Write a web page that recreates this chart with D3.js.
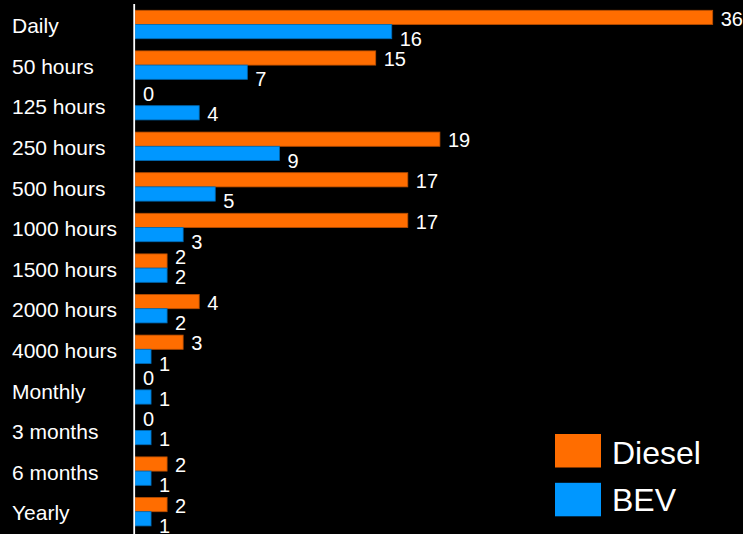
<!DOCTYPE html>
<html>
<head>
<meta charset="utf-8">
<script src="https://cdn.jsdelivr.net/npm/d3@7"></script>
<style>
  html, body { margin: 0; padding: 0; background: #000; }
  svg { display: block; }
  text { font-family: "Liberation Sans", Arial, sans-serif; fill: #fff; }
</style>
</head>
<body>
<svg id="chart" width="743" height="534"></svg>
<script>
// Maintenance intervals and number of tasks per drivetrain
const categories = ["Daily", "50 hours", "125 hours", "250 hours", "500 hours", "1000 hours",
  "1500 hours", "2000 hours", "4000 hours", "Monthly", "3 months", "6 months", "Yearly"];
const seriesNames = ["Diesel", "BEV"];
const dieselValues = [36, 15, 0, 19, 17, 17, 2, 4, 3, 0, 0, 2, 2];
const bevValues = [16, 7, 4, 9, 5, 3, 2, 2, 1, 1, 1, 1, 1];
const colors = ["#ff6d00", "#0097ff"];
const strokes = ["#b84e00", "#006bb5"];

const width = 743, height = 534;
const svg = d3.select("#chart");
svg.append("rect").attr("width", width).attr("height", height).attr("fill", "#000");

const x = d3.scaleLinear().domain([0, 36]).range([135, 712.7]);
const y = d3.scaleBand().domain(categories).range([4.2, 532]).paddingInner(0.3).paddingOuter(0.15);
const ySub = d3.scaleBand().domain(seriesNames).range([0, y.bandwidth()]);

const rows = categories.map((c, i) => ({ cat: c, vals: [dieselValues[i], bevValues[i]] }));

// bars
const groups = svg.append("g").selectAll("g").data(rows).join("g")
  .attr("transform", d => `translate(0,${y(d.cat)})`);
groups.selectAll("rect").data(d => d.vals.map((v, k) => ({ v, k })))
  .join("rect")
  .attr("x", x(0))
  .attr("y", d => ySub(seriesNames[d.k]))
  .attr("width", d => x(d.v) - x(0))
  .attr("height", ySub.bandwidth())
  .attr("fill", d => colors[d.k])
  .attr("stroke", d => d.v > 0 ? strokes[d.k] : "none")
  .attr("stroke-width", 0.8);

// value labels, nudged apart when they would collide with the other bar/label
const labelSize = 20;
const charW = labelSize * 0.556;
const labelG = svg.append("g");
rows.forEach(r => {
  const [dv, bv] = r.vals;
  const dx0 = x(dv) + 8, dx1 = dx0 + String(dv).length * charW;
  const bx0 = x(bv) + 8, bx1 = bx0 + String(bv).length * charW;
  const clash = (dx0 < bx1 && bx0 < dx1) || dx0 < x(bv);
  const dCenter = y(r.cat) + ySub("Diesel") + ySub.bandwidth() / 2 + (clash ? -4.5 : 1);
  const bCenter = y(r.cat) + ySub("BEV") + ySub.bandwidth() / 2 + (clash ? 1.5 : 7);
  [[dv, dx0, dCenter], [bv, bx0, bCenter]].forEach(([v, lx, cy]) => {
    labelG.append("text")
      .attr("x", lx)
      .attr("y", cy + labelSize * 0.358)
      .attr("font-size", labelSize)
      .text(v);
  });
});

// category axis
const axis = svg.append("g");
axis.append("line")
  .attr("x1", 134.2).attr("x2", 134.2)
  .attr("y1", 4).attr("y2", height)
  .attr("stroke", "#fff").attr("stroke-width", 1.8);
axis.selectAll("text.cat").data(categories).join("text")
  .attr("class", "cat")
  .attr("x", 12)
  .attr("y", d => y(d) + y.bandwidth() / 2 + 8.6)
  .attr("font-size", 21)
  .text(d => d);

// legend
const legend = svg.append("g");
seriesNames.forEach((name, k) => {
  legend.append("rect")
    .attr("x", 555).attr("y", 434 + k * 48.8)
    .attr("width", 46).attr("height", 33.5)
    .attr("fill", colors[k]);
  legend.append("text")
    .attr("x", 612).attr("y", 463.7 + k * 47)
    .attr("font-size", 32)
    .text(name);
});
</script>
</body>
</html>
